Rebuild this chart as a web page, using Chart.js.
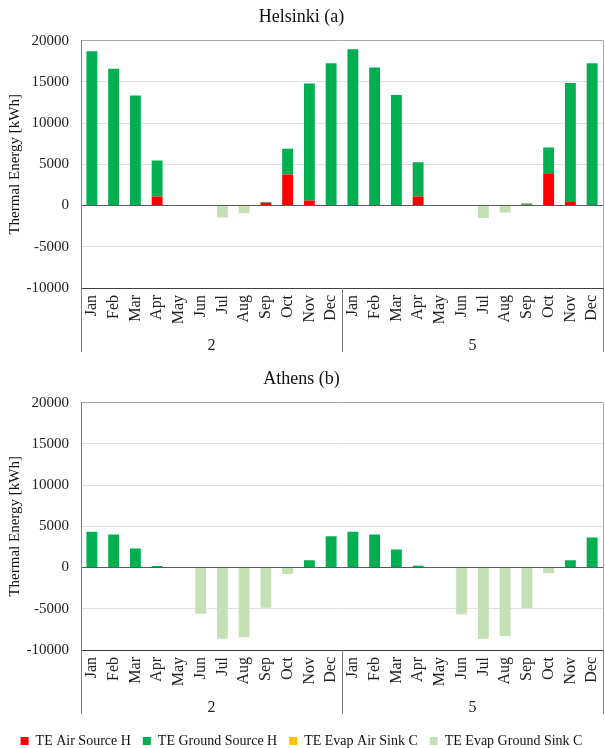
<!DOCTYPE html>
<html>
<head>
<meta charset="utf-8">
<script src="https://cdn.jsdelivr.net/npm/chart.js@4/dist/chart.umd.min.js"></script>
<style>
  html, body { margin: 0; padding: 0; background: #fff; overflow: hidden; }
  canvas { display: block; position: absolute; left: 0; }
  #helsinkiChart { top: 0; }
  #athensChart { top: 362px; }
</style>
</head>
<body>
<canvas id="helsinkiChart" width="605" height="362"></canvas>
<canvas id="athensChart" width="605" height="386"></canvas>
<script>
// months repeated for the two groups (2 and 5)
const months = ["Jan", "Feb", "Mar", "Apr", "May", "Jun", "Jul", "Aug", "Sep", "Oct", "Nov", "Dec"];
const monthLabels = months.concat(months);
const groupLabels = ["2", "5"];
const yTicks = [-10000, -5000, 0, 5000, 10000, 15000, 20000];

// Helsinki (a)
const helAirSourceH = [0, 0, 0, 1100, 0, 0, 0, 0, 350, 3750, 600, 0,
                       0, 0, 0, 1100, 0, 0, 0, 0, 100, 3900, 520, 0];
const helGroundSourceH = [18700, 16600, 13350, 4350, 0, 0, 0, 0, 80, 3130, 14200, 17240,
                          18940, 16750, 13400, 4150, 0, 0, 0, 0, 150, 3150, 14330, 17240];
const helEvapAirSinkC = [0, 0, 0, 0, 0, 0, 0, -100, 0, 0, 0, 0,
                         0, 0, 0, 0, 0, 0, 0, 0, 0, 0, 0, 0];
const helEvapGroundSinkC = [0, 0, 0, 0, 0, 0, -1450, -830, 0, 0, 0, 0,
                            0, 0, 0, 0, 0, 0, -1500, -850, 0, 0, 0, 0];

// Athens (b)
const athAirSourceH = [0, 0, 0, 0, 0, 0, 0, 0, 0, 0, 0, 0,
                       0, 0, 0, 0, 0, 0, 0, 0, 0, 0, 0, 0];
const athGroundSourceH = [4330, 4000, 2320, 180, 0, 0, 0, 0, 0, 0, 880, 3800,
                          4330, 4000, 2200, 220, 0, 0, 0, 0, 0, 0, 880, 3640];
const athEvapAirSinkC = [0, 0, 0, 0, 0, 0, 0, 0, 0, 0, 0, 0,
                         0, 0, 0, 0, 0, 0, 0, 0, 0, 0, 0, 0];
const athEvapGroundSinkC = [0, 0, 0, 0, 0, -5610, -8650, -8460, -4890, -770, 0, 0,
                            0, 0, 0, 0, 0, -5650, -8650, -8300, -4900, -700, 0, 0];

const seriesNames = ["TE Air Source H", "TE Ground Source H", "TE Evap Air Sink C", "TE Evap Ground Sink C"];
const seriesColors = ["#ff0000", "#00b050", "#ffc000", "#c5e0b4"];

Chart.defaults.font.family = "'Liberation Serif', 'Times New Roman', serif";
Chart.defaults.color = "#222";

// group separators under the axis + right frame line
const groupLines = {
  id: "groupLines",
  afterDraw(chart) {
    const {ctx, chartArea} = chart;
    const x = chart.scales.x;
    const x2 = chart.scales.x2;
    const mid = (x.getPixelForValue(11) + x.getPixelForValue(12)) / 2;
    ctx.save();
    ctx.lineWidth = 1;
    ctx.strokeStyle = "#808080";
    [x.left, mid, x.right].forEach(px => {
      const p = Math.round(px) + 0.5;
      ctx.beginPath();
      ctx.moveTo(p, chartArea.bottom);
      ctx.lineTo(p, x2.bottom - 8);
      ctx.stroke();
    });
    ctx.strokeStyle = "#a6a6a6";
    const r = Math.round(chartArea.right) + 0.5;
    ctx.beginPath();
    ctx.moveTo(r, chartArea.top);
    ctx.lineTo(r, chartArea.bottom);
    ctx.stroke();
    ctx.restore();
  }
};

function makeConfig(title, data, showLegend) {
  return {
    type: "bar",
    data: {
      labels: monthLabels,
      datasets: data.map((d, i) => ({
        label: seriesNames[i],
        data: d,
        backgroundColor: seriesColors[i],
        borderWidth: 0,
        barPercentage: 0.5,
        categoryPercentage: 1,
      })),
    },
    options: {
      responsive: false,
      animation: false,
      layout: { padding: { left: 0, right: 2, top: 0, bottom: showLegend ? -10 : 2 } },
      plugins: {
        title: {
          display: true,
          text: title,
          color: "#111",
          font: { size: 18, weight: "normal" },
          padding: { top: 6, bottom: 13 },
        },
        legend: {
          display: showLegend,
          position: "bottom",
          labels: {
            boxWidth: 8,
            boxHeight: 8,
            padding: 12,
            color: "#111",
            font: { size: 14 },
          },
        },
        tooltip: { enabled: false },
      },
      scales: {
        x: {
          stacked: true,
          grid: { display: true, drawOnChartArea: false, drawTicks: false },
          border: { display: true, color: "#404040" },
          ticks: { minRotation: 90, maxRotation: 90, autoSkip: false, padding: 7, font: { size: 16 } },
          afterFit: s => { s.height = 38; s.paddingLeft = 0; s.paddingRight = 0; },
        },
        x2: {
          type: "category",
          labels: groupLabels,
          position: "bottom",
          offset: true,
          grid: { display: false },
          border: { display: false },
          ticks: { padding: 2, font: { size: 16 } },
          afterFit: s => { s.height = 34; s.paddingLeft = 0; s.paddingRight = 0; },
        },
        y: {
          stacked: true,
          min: -10000,
          max: 20000,
          afterBuildTicks: s => { s.ticks = yTicks.map(v => ({ value: v })); },
          grid: {
            drawTicks: false,
            color: c => {
              const v = c.tick && c.tick.value;
              if (v === 0 || v === -10000) return "#595959";
              if (v === 20000) return "#a6a6a6";
              return "#e0e0e0";
            },
          },
          border: { display: true, color: "#808080" },
          ticks: { padding: 12, font: { size: 15 }, callback: v => String(v) },
          title: {
            display: true,
            text: "Thermal Energy [kWh]",
            color: "#111",
            font: { size: 15 },
            padding: { top: 6, bottom: 0 },
          },
          afterFit: s => { s.width = 81; },
        },
      },
    },
    plugins: [groupLines],
  };
}

const helsinkiChart = new Chart(
  document.getElementById("helsinkiChart"),
  makeConfig("Helsinki (a)", [helAirSourceH, helGroundSourceH, helEvapAirSinkC, helEvapGroundSinkC], false)
);

const athensChart = new Chart(
  document.getElementById("athensChart"),
  makeConfig("Athens (b)", [athAirSourceH, athGroundSourceH, athEvapAirSinkC, athEvapGroundSinkC], true)
);
</script>
</body>
</html>
